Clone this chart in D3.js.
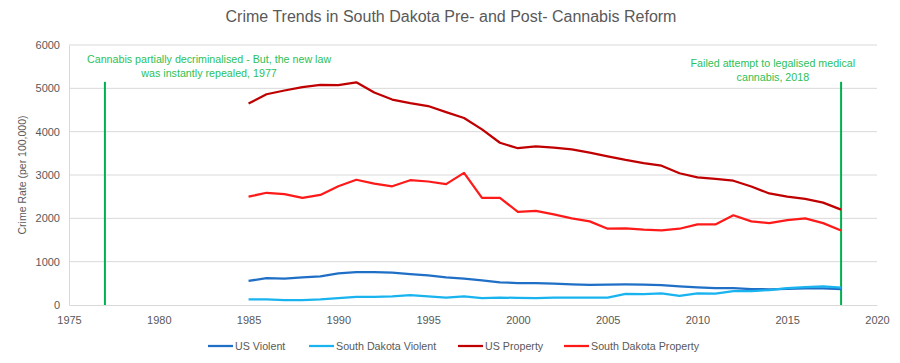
<!DOCTYPE html>
<html>
<head>
<meta charset="utf-8">
<script src="https://cdn.jsdelivr.net/npm/d3@7"></script>
<style>
  body { margin: 0; background: #fff; }
  text { font-family: "Liberation Sans", Arial, sans-serif; }
</style>
</head>
<body>
<svg id="chart" width="900" height="363"></svg>
<script>
const years = d3.range(1985, 2019);
const usViolent = [556, 620, 610, 637, 663, 732, 758, 758, 747, 714, 685, 637, 611, 568, 523, 507, 505, 494, 476, 463, 469, 474, 471, 458, 432, 405, 387, 387, 369, 362, 373, 386, 383, 369];
const sdViolent = [130, 130, 115, 115, 130, 160, 190, 190, 200, 230, 200, 170, 200, 160, 170, 165, 160, 170, 170, 170, 170, 255, 250, 270, 210, 270, 265, 320, 320, 345, 390, 410, 430, 400];
const usProperty = [4651, 4863, 4950, 5027, 5078, 5073, 5140, 4903, 4741, 4660, 4591, 4451, 4316, 4052, 3744, 3618, 3658, 3631, 3591, 3514, 3432, 3347, 3276, 3215, 3041, 2946, 2909, 2868, 2734, 2574, 2500, 2451, 2362, 2200];
const sdProperty = [2500, 2590, 2560, 2470, 2540, 2740, 2890, 2800, 2740, 2880, 2850, 2790, 3050, 2470, 2470, 2150, 2170, 2090, 2000, 1930, 1760, 1770, 1740, 1720, 1760, 1860, 1860, 2070, 1930, 1890, 1960, 2000, 1890, 1720];
const seriesNames = ["US Violent", "South Dakota Violent", "US Property", "South Dakota Property"];
const seriesColors = ["#1f6fc6", "#19b4ef", "#c00000", "#ff1a1a"];
const xTicks = d3.range(1975, 2021, 5);
const yTicks = d3.range(0, 6001, 1000);
const events = [
  {year: 1977, top: 5150, lines: ["Cannabis partially decriminalised - But, the new law", "was instantly repealed, 1977"], cx: 1982.8},
  {year: 2018, top: 5150, lines: ["Failed attempt to legalised medical", "cannabis, 2018"], cx: 2014.2}
];

const svg = d3.select("#chart");
const textColor = "#595959";
const green = "#00b050";

const x = d3.scaleLinear().domain([1975, 2020]).range([69, 877]);
const y = d3.scaleLinear().domain([0, 6000]).range([305, 45]);

// title
svg.append("text")
  .attr("x", 451)
  .attr("y", 22)
  .text("Crime Trends in South Dakota Pre- and Post- Cannabis Reform")
  .style("font-size", "16px")
  .style("fill", textColor)
  .style("text-anchor", "middle");

// gridlines
svg.append("g")
  .selectAll("line")
  .data(yTicks.filter(d => d > 0))
  .enter()
  .append("line")
    .attr("x1", x(1975))
    .attr("x2", x(2020))
    .attr("y1", d => y(d))
    .attr("y2", d => y(d))
    .style("stroke", "#d9d9d9")
    .style("stroke-width", 1);

// axes
const yAxis = svg.append("g")
  .attr("transform", `translate(${x(1975)},0)`)
  .call(d3.axisLeft(y).tickValues(yTicks).tickFormat(d3.format("d")).tickSize(0).tickPadding(9));
const xAxis = svg.append("g")
  .attr("transform", `translate(0,${y(0)})`)
  .call(d3.axisBottom(x).tickValues(xTicks).tickFormat(d3.format("d")).tickSize(0).tickPadding(11));
[yAxis, xAxis].forEach(a => {
  a.select(".domain").style("stroke", "#d9d9d9");
  a.selectAll("text").style("font-size", "11px").style("fill", textColor)
    .style("font-family", "'Liberation Sans', Arial, sans-serif");
});

svg.append("text")
  .attr("transform", `translate(26,${(y(0) + y(6000)) / 2}) rotate(-90)`)
  .text("Crime Rate (per 100,000)")
  .style("font-size", "10.5px")
  .style("fill", textColor)
  .style("text-anchor", "middle");

// event lines
events.forEach(e => {
  svg.append("line")
    .attr("x1", x(e.year))
    .attr("x2", x(e.year))
    .attr("y1", y(e.top))
    .attr("y2", y(0))
    .style("stroke", green)
    .style("stroke-width", 2);
  svg.append("text")
    .attr("x", x(e.cx))
    .attr("y", e.year === 1977 ? 63 : 67)
    .selectAll("tspan")
    .data(e.lines)
    .enter()
    .append("tspan")
      .attr("x", x(e.cx))
      .attr("dy", (d, i) => i === 0 ? 0 : 14)
      .text(d => d)
      .style("font-size", "10.7px")
      .style("fill", "#2cbf5a")
      .style("text-anchor", "middle");
});

// series
const allSeries = [usViolent, sdViolent, usProperty, sdProperty];
const line = d3.line().x((d, i) => x(years[i])).y(d => y(d));
allSeries.forEach((s, k) => {
  svg.append("path")
    .datum(s)
    .attr("d", line)
    .style("fill", "none")
    .style("stroke", seriesColors[k])
    .style("stroke-width", 2.25)
    .style("stroke-linejoin", "round");
});

// legend
const legendX = [208, 309, 458, 564];
const legend = svg.append("g");
seriesNames.forEach((n, k) => {
  legend.append("line")
    .attr("x1", legendX[k])
    .attr("x2", legendX[k] + 25)
    .attr("y1", 346)
    .attr("y2", 346)
    .style("stroke", seriesColors[k])
    .style("stroke-width", 2.25);
  legend.append("text")
    .attr("x", legendX[k] + 27)
    .attr("y", 350)
    .text(n)
    .style("font-size", "10.7px")
    .style("fill", textColor);
});
</script>
</body>
</html>
